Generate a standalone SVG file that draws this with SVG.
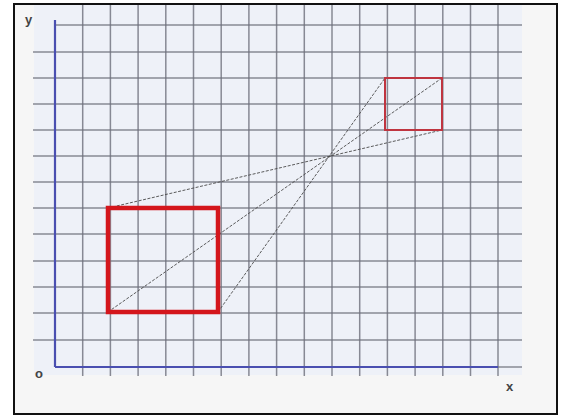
<svg xmlns="http://www.w3.org/2000/svg" width="563" height="418" viewBox="0 0 563 418">
<style>
.grid line{stroke:#6e707c;stroke-width:1.5;opacity:0.8}
.axis{stroke:#4a4fb0;stroke-width:2.2}
.ray{stroke:#4a4a4a;stroke-width:0.9;stroke-dasharray:3 1.5;fill:none}
.lbl{font-family:"Liberation Sans",Arial,sans-serif;font-weight:bold;fill:#444;font-size:13px}
</style>
<rect x="0" y="0" width="563" height="418" fill="#ffffff"/>
<rect x="14" y="4" width="543" height="410" fill="#f6f6f6" stroke="#111" stroke-width="2"/>
<rect x="34" y="5" width="488" height="370" fill="#eef1f8"/>
<g class="grid" id="grid">
<line x1="55" y1="25" x2="522" y2="25"/>
<line x1="33" y1="52" x2="522" y2="52"/>
<line x1="33" y1="78" x2="522" y2="78"/>
<line x1="33" y1="104" x2="522" y2="104"/>
<line x1="33" y1="130" x2="522" y2="130"/>
<line x1="33" y1="156" x2="522" y2="156"/>
<line x1="33" y1="182" x2="522" y2="182"/>
<line x1="33" y1="208" x2="522" y2="208"/>
<line x1="33" y1="234" x2="522" y2="234"/>
<line x1="33" y1="261" x2="522" y2="261"/>
<line x1="33" y1="287" x2="522" y2="287"/>
<line x1="33" y1="313" x2="522" y2="313"/>
<line x1="33" y1="340" x2="522" y2="340"/>
<line x1="498" y1="367" x2="522" y2="367"/>
<line x1="82.7" y1="5" x2="82.7" y2="376"/>
<line x1="110.4" y1="5" x2="110.4" y2="376"/>
<line x1="138.1" y1="5" x2="138.1" y2="376"/>
<line x1="165.8" y1="5" x2="165.8" y2="376"/>
<line x1="193.5" y1="5" x2="193.5" y2="376"/>
<line x1="221.2" y1="5" x2="221.2" y2="376"/>
<line x1="248.9" y1="5" x2="248.9" y2="376"/>
<line x1="276.6" y1="5" x2="276.6" y2="376"/>
<line x1="304.3" y1="5" x2="304.3" y2="376"/>
<line x1="332" y1="5" x2="332" y2="376"/>
<line x1="359.7" y1="5" x2="359.7" y2="376"/>
<line x1="387.4" y1="5" x2="387.4" y2="376"/>
<line x1="415.1" y1="5" x2="415.1" y2="376"/>
<line x1="442.8" y1="5" x2="442.8" y2="376"/>
<line x1="470.5" y1="5" x2="470.5" y2="376"/>
<line x1="498" y1="5" x2="498" y2="376"/>
</g>
<g id="axes">
<line class="axis" x1="55" y1="20" x2="55" y2="367"/>
<line class="axis" x1="55" y1="367" x2="498" y2="367"/>
</g>
<g id="connectors">
<line class="ray" x1="108" y1="208" x2="442" y2="130"/>
<line class="ray" x1="108" y1="312" x2="442" y2="78"/>
<line class="ray" x1="218" y1="312" x2="385" y2="78"/>
</g>
<g id="big-square">
<rect x="108" y="208" width="110" height="104" fill="none" stroke="#d4161c" stroke-width="4.5"/>
</g>
<g id="small-square">
<rect x="385" y="78" width="57" height="52" fill="none" stroke="#bf3540" stroke-width="2"/>
</g>
<g id="labels">
<text class="lbl" x="25" y="24" font-size="15">y</text>
<text class="lbl" x="35" y="378">o</text>
<text class="lbl" x="506" y="391" font-size="11">x</text>
</g>
</svg>
